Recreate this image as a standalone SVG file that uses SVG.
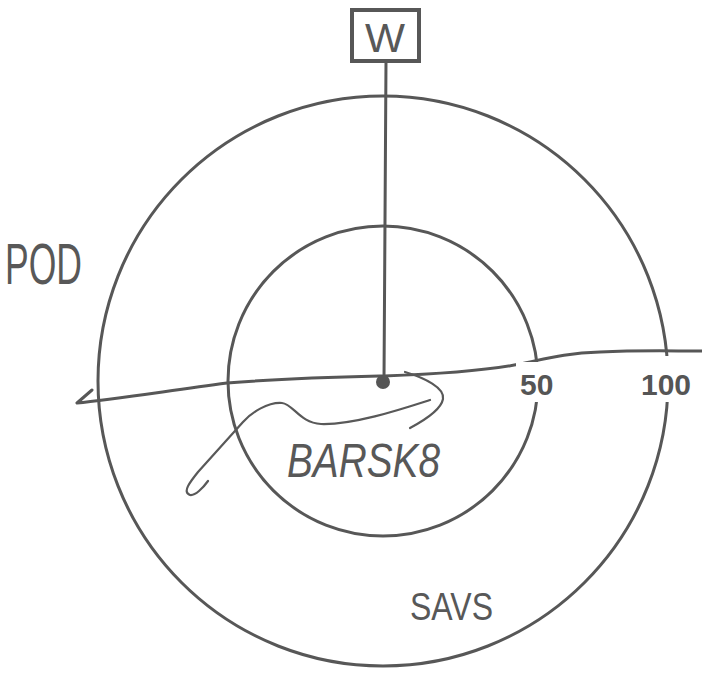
<svg xmlns="http://www.w3.org/2000/svg" width="702" height="677" viewBox="0 0 702 677">
<style>
.ln{fill:none;stroke:#575757;stroke-width:3;stroke-linecap:round;stroke-linejoin:round}
.hw{fill:none;stroke:#595959;stroke-width:2.2;stroke-linecap:round;stroke-linejoin:round}
.hand{font-family:"Liberation Sans",Arial,sans-serif;fill:#585858}
.num{font-family:"Liberation Sans",Arial,sans-serif;font-weight:bold;font-size:30px;fill:#555}
.mask{fill:#fff}
</style>
<rect width="702" height="677" fill="#fff"/>
<g id="rings">
<circle class="ln" cx="383" cy="381" r="285"/>
<circle class="ln" cx="383" cy="381" r="155"/>
</g>
<g id="connectors">
<line class="ln" x1="386" y1="61" x2="384" y2="380"/>
<path class="ln" d="M92 390 L77 403 C110 400 160 392 227 383 C290 378 340 377 384 376 C440 374 490 370 520 364 C545 359 565 353 600 352 C640 350 670 351 702 351"/>
<path class="hw" d="M405 372 C425 378 445 388 443 399 C441 410 425 420 410 428"/>
<path class="hw" d="M430 400 C405 408 355 425 321 424 C300 423 293 404 282 403 C268 402 252 412 243 422 L198 472 C190 482 182 492 190 495 C195 496 203 488 208 481"/>
<circle cx="383" cy="382" r="7" fill="#555"/>
</g>
<g id="node-w">
<rect x="352" y="10" width="67" height="51" fill="#fff" stroke="#575757" stroke-width="4"/>
<text class="hand" x="365" y="52" font-size="40" textLength="40" lengthAdjust="spacingAndGlyphs">W</text>
</g>
<g id="label-50">
<rect class="mask" x="516" y="362" width="44" height="40"/>
<text class="num" x="520" y="395">50</text>
</g>
<g id="label-100">
<rect class="mask" x="637" y="356" width="64" height="46"/>
<text class="num" x="641" y="395">100</text>
</g>
<g id="label-pod">
<text class="hand" x="5" y="284" font-size="58" textLength="77" lengthAdjust="spacingAndGlyphs">POD</text>
</g>
<g id="label-barsk8">
<text class="hand" x="287" y="477" font-size="48" textLength="153" lengthAdjust="spacingAndGlyphs" font-style="italic">BARSK8</text>
</g>
<g id="label-savs">
<text class="hand" x="410" y="620" font-size="38" textLength="83" lengthAdjust="spacingAndGlyphs">SAVS</text>
</g>
</svg>
